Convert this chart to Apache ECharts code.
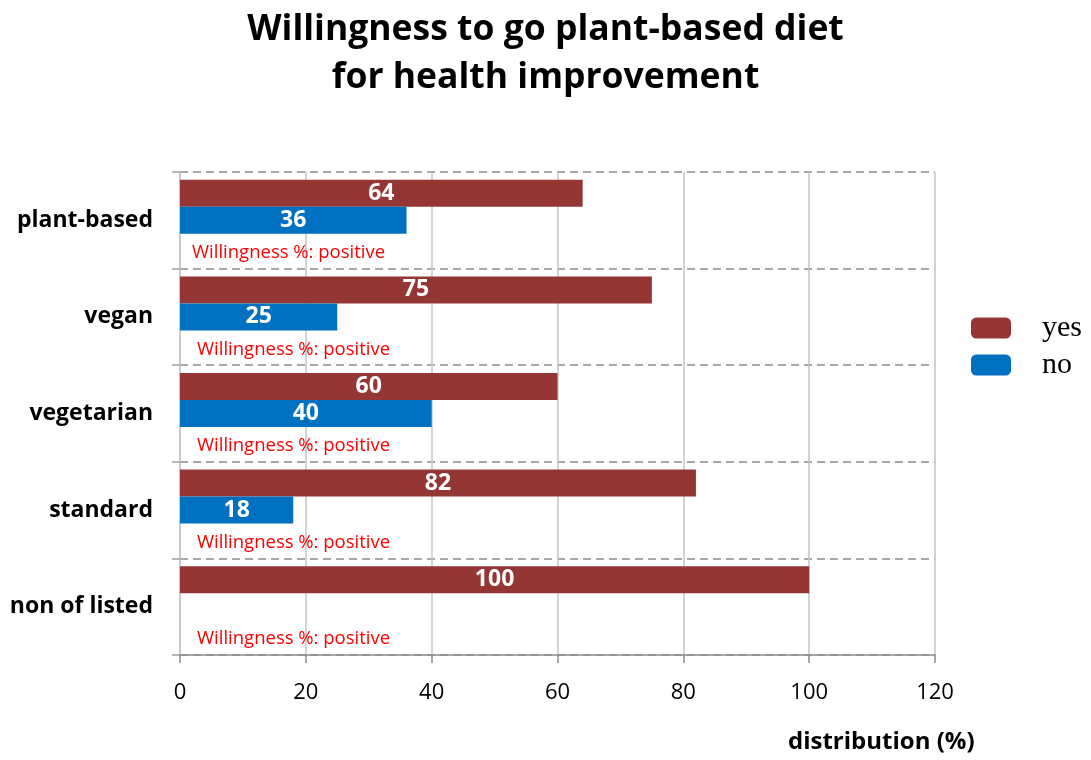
<!DOCTYPE html>
<html>
<head>
<meta charset="utf-8">
<script src="https://cdn.jsdelivr.net/npm/echarts@6/dist/echarts.min.js"></script>
<style>
  html, body { margin: 0; padding: 0; background: #fff; }
  #chart { width: 1091px; height: 760px; }
</style>
</head>
<body>
<div id="chart"></div>
<script>
// Survey: willingness to switch to a plant-based diet, by current diet
const categories = ['plant-based', 'vegan', 'vegetarian', 'standard', 'non of listed'];
const yesValues = [64, 75, 60, 82, 100];
const noValues = [36, 25, 40, 18, 0];
const noteLabels = [
  'Willingness %: positive',
  'Willingness %: positive',
  'Willingness %: positive',
  'Willingness %: positive',
  'Willingness %: positive'
];
const xTicks = { min: 0, max: 120, interval: 20 };

const SANS = '"Open Sans", "Noto Sans", sans-serif';
const BAR_W = 27;

const chart = echarts.init(document.getElementById('chart'), null, { renderer: 'canvas' });

const valueLabel = {
  show: true,
  position: 'inside',
  color: '#ffffff',
  fontFamily: SANS,
  fontWeight: 'bold',
  fontSize: 23,
  formatter: p => (p.value ? String(p.value) : '')
};

chart.setOption({
  animation: false,
  backgroundColor: '#ffffff',
  title: {
    text: 'Willingness to go plant-based diet\nfor health improvement',
    left: 'center',
    top: 1,
    textStyle: {
      fontFamily: SANS,
      fontWeight: 'bold',
      fontSize: 35.5,
      lineHeight: 48,
      color: '#000000'
    }
  },
  legend: {
    data: ['yes', 'no'],
    orient: 'vertical',
    left: 966,
    top: 308,
    itemWidth: 40,
    itemHeight: 21,
    itemGap: 7,
    icon: 'roundRect',
    textStyle: {
      fontFamily: '"Liberation Serif", "DejaVu Serif", serif',
      fontSize: 30,
      lineHeight: 21,
      color: '#000000',
      padding: [0, 0, 0, 26]
    }
  },
  grid: { left: 180, right: 156, top: 172, bottom: 105, containLabel: false },
  xAxis: {
    type: 'value',
    min: xTicks.min,
    max: xTicks.max,
    interval: xTicks.interval,
    axisLine: { show: true, lineStyle: { color: '#8c8c8c', width: 1.5 } },
    axisTick: { show: true, length: 8, lineStyle: { color: '#8c8c8c', width: 1.5 } },
    axisLabel: { color: '#000000', fontFamily: SANS, fontSize: 22, margin: 27 },
    splitLine: { show: true, lineStyle: { color: '#c4c4c4', width: 1.5, type: 'solid' } }
  },
  yAxis: {
    type: 'category',
    inverse: true,
    data: categories,
    axisLine: { show: true, lineStyle: { color: '#c4c4c4', width: 1.5 } },
    axisTick: { show: true, length: 8, lineStyle: { color: '#a0a0a0', width: 1.5 } },
    axisLabel: {
      color: '#000000',
      fontFamily: SANS,
      fontWeight: 'bold',
      fontSize: 23,
      margin: 27
    },
    splitLine: {
      show: true,
      lineStyle: { color: '#8c8c8c', width: 1.5, type: [8, 5] }
    }
  },
  series: [
    {
      name: 'yes',
      type: 'bar',
      data: yesValues,
      barWidth: BAR_W,
      barGap: '0%',
      itemStyle: { color: '#943634' },
      label: valueLabel
    },
    {
      name: 'no',
      type: 'bar',
      data: noValues,
      barWidth: BAR_W,
      barGap: '0%',
      itemStyle: { color: '#0070C0' },
      label: valueLabel
    },
    {
      // empty slot below the pair of bars, reserved for the note line
      name: 'note-slot',
      type: 'bar',
      data: categories.map(() => null),
      barWidth: BAR_W,
      barGap: '0%',
      silent: true
    },
    {
      name: 'notes',
      type: 'custom',
      silent: true,
      data: categories.map((c, i) => [0, i]),
      encode: { x: 0, y: 1 },
      z: 5,
      renderItem: function (params, api) {
        const p = api.coord([0, api.value(1)]);
        const band = api.size([0, 1])[1];
        return {
          type: 'text',
          x: p[0] + (params.dataIndex === 0 ? 12 : 17),
          y: p[1] + band * 0.335,
          style: {
            text: noteLabels[params.dataIndex],
            fill: '#ff0000',
            font: '18.5px ' + SANS,
            textAlign: 'left',
            verticalAlign: 'middle'
          }
        };
      }
    }
  ],
  graphic: [
    {
      type: 'text',
      left: 788,
      top: 730,
      style: {
        text: 'distribution (%)',
        fill: '#000000',
        font: 'bold 24px ' + SANS
      }
    }
  ]
});
</script>
</body>
</html>
